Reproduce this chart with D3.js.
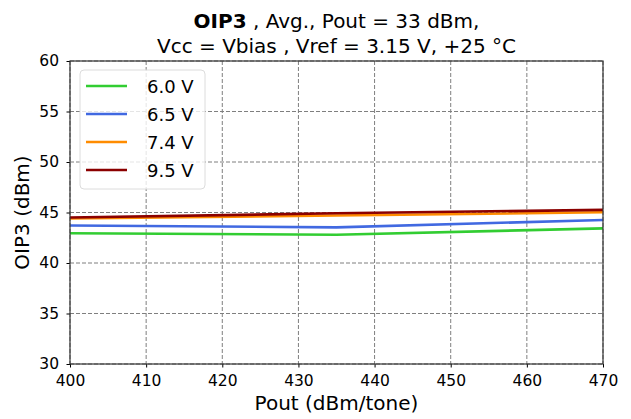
<!DOCTYPE html>
<html>
<head>
<meta charset="utf-8">
<script src="https://cdn.jsdelivr.net/npm/d3@7"></script>
<style>
  body { margin: 0; background: #fff; }
  svg { font-family: "DejaVu Sans", sans-serif; }
</style>
</head>
<body>
<div id="chart"></div>
<script>
// values
const pout = [400, 435, 470];
const series = ["6.0 V", "6.5 V", "7.4 V", "9.5 V"];
const colors = ["#32cd32", "#4169e1", "#ff8c00", "#8b0000"];
const oip3_60 = [42.95, 42.8, 43.43];
const oip3_65 = [43.72, 43.53, 44.26];
const oip3_74 = [44.4, 44.7, 45.02];
const oip3_95 = [44.5, 44.92, 45.26];
const xTicks = [400, 410, 420, 430, 440, 450, 460, 470];
const yTicks = [30, 35, 40, 45, 50, 55, 60];

const W = 631, H = 419;
const margin = { top: 61, right: 28, bottom: 55, left: 70 };
const width = W - margin.left - margin.right;
const height = H - margin.top - margin.bottom;

const root = d3.select("#chart").append("svg")
    .attr("width", W)
    .attr("height", H);

const svg = root.append("g")
    .attr("transform", `translate(${margin.left},${margin.top})`);

const x = d3.scaleLinear().domain([400, 470]).range([0, width]);
const y = d3.scaleLinear().domain([30, 60]).range([height, 0]);

// grid
svg.append("g")
    .selectAll("line.vg")
    .data(xTicks)
    .enter().append("line")
    .attr("x1", d => x(d)).attr("x2", d => x(d))
    .attr("y1", 0).attr("y2", height)
    .attr("stroke", "#7f7f7f").attr("stroke-width", 1)
    .attr("stroke-dasharray", "4,2");

svg.append("g")
    .selectAll("line.hg")
    .data(yTicks)
    .enter().append("line")
    .attr("x1", 0).attr("x2", width)
    .attr("y1", d => y(d)).attr("y2", d => y(d))
    .attr("stroke", "#7f7f7f").attr("stroke-width", 1)
    .attr("stroke-dasharray", "4,2");

// lines
const allData = [oip3_60, oip3_65, oip3_74, oip3_95];
const line = d3.line()
    .x((d, i) => x(pout[i]))
    .y(d => y(d));

allData.forEach((vals, i) => {
    svg.append("path")
        .datum(vals)
        .attr("fill", "none")
        .attr("stroke", colors[i])
        .attr("stroke-width", 2.6)
        .attr("d", line);
});

// axes
const xAxis = d3.axisBottom(x).tickValues(xTicks).tickSize(3.5).tickPadding(7);
const yAxis = d3.axisLeft(y).tickValues(yTicks).tickSize(3.5).tickPadding(7.5);

const gx = svg.append("g")
    .attr("transform", `translate(0,${height})`)
    .call(xAxis);
const gy = svg.append("g").call(yAxis);

[gx, gy].forEach(g => {
    g.select(".domain").remove();
    g.selectAll("text").attr("font-size", 15.5).attr("fill", "#000")
        .attr("font-family", "DejaVu Sans");
    g.selectAll("line").attr("stroke", "#000").attr("stroke-width", 1);
});

// frame
svg.append("rect")
    .attr("width", width).attr("height", height)
    .attr("fill", "none")
    .attr("stroke", "#333").attr("stroke-width", 1.2);

// legend
const legend = svg.append("g").attr("transform", "translate(10,9)");
legend.append("rect")
    .attr("width", 125).attr("height", 119)
    .attr("rx", 4)
    .attr("fill", "#fff").attr("fill-opacity", 0.8)
    .attr("stroke", "#dcdcdc");

series.forEach((s, i) => {
    const row = legend.append("g").attr("transform", `translate(0,${16 + i * 28})`);
    row.append("line")
        .attr("x1", 6).attr("x2", 47)
        .attr("stroke", colors[i]).attr("stroke-width", 2.6);
    row.append("text")
        .attr("x", 67).attr("y", 7)
        .attr("font-size", 18)
        .text(s);
});

// title
const title = root.append("text")
    .attr("x", margin.left + width / 2)
    .attr("text-anchor", "middle")
    .attr("font-size", 20);
const t1 = title.append("tspan").attr("x", margin.left + width / 2).attr("y", 28);
t1.append("tspan").attr("font-weight", "bold").text("OIP3");
t1.append("tspan").text(" , Avg., Pout = 33 dBm,");
title.append("tspan")
    .attr("x", margin.left + width / 2).attr("y", 52.5)
    .text("Vcc = Vbias , Vref = 3.15 V, +25 °C");

// axis labels
root.append("text")
    .attr("x", margin.left + width / 2)
    .attr("y", 410)
    .attr("text-anchor", "middle")
    .attr("font-size", 20)
    .text("Pout (dBm/tone)");

root.append("text")
    .attr("transform", `translate(29,${margin.top + height / 2}) rotate(-90)`)
    .attr("text-anchor", "middle")
    .attr("font-size", 20)
    .text("OIP3 (dBm)");
</script>
</body>
</html>
